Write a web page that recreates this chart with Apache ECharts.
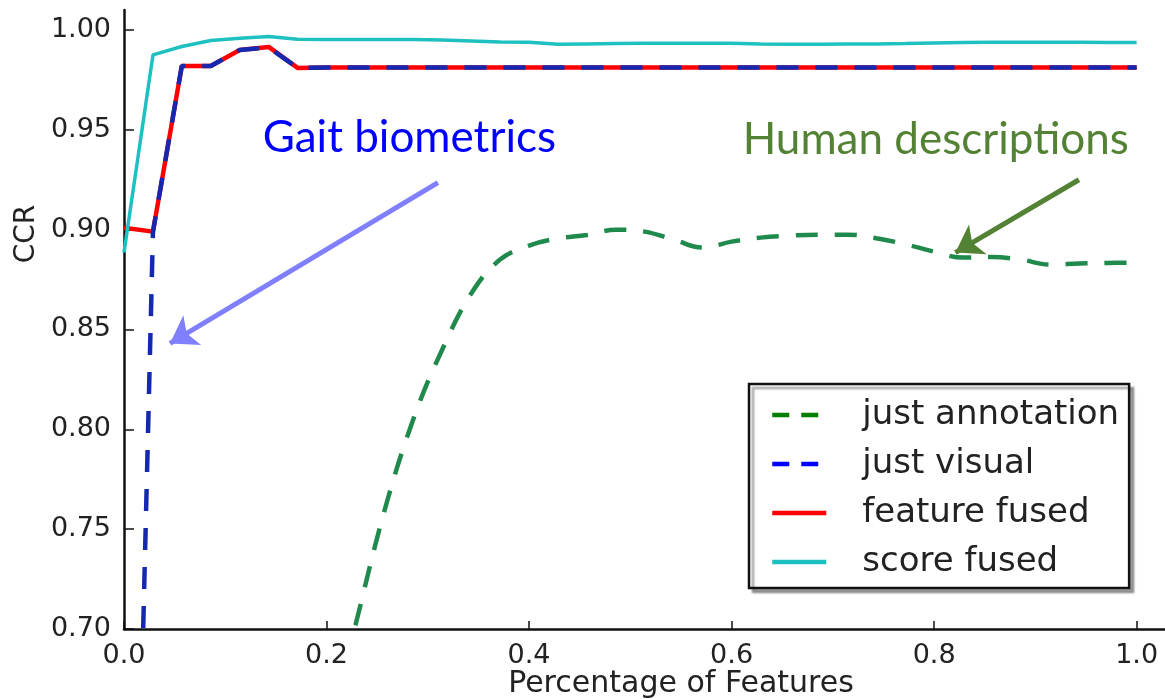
<!DOCTYPE html>
<html>
<head>
<meta charset="utf-8">
<script src="https://cdn.jsdelivr.net/npm/echarts@6/dist/echarts.min.js"></script>
<style>
html, body { margin: 0; padding: 0; background: #fff; }
#chart { width: 1165px; height: 699px; }
</style>
</head>
<body>
<div id="chart"></div>
<script>
// fraction of features used (x)
const featureFrac = [0, 0.0286, 0.0571, 0.0857, 0.1143, 0.1429, 0.1714, 0.2, 0.2286, 0.2571,
  0.2857, 0.3143, 0.3429, 0.3714, 0.4, 0.4286, 0.4571, 0.4857, 0.5143, 0.5429,
  0.5714, 0.6, 0.6286, 0.6571, 0.6857, 0.7143, 0.7429, 0.7714, 0.8, 0.8286,
  0.8571, 0.8857, 0.9143, 0.9429, 0.9714, 1.0];

const justAnnotation = [null, null, null, null, null, null, null, 0.645, 0.702, 0.759,
  0.805, 0.840, 0.868, 0.885, 0.892, 0.8956, 0.8973, 0.900, 0.899, 0.895,
  0.891, 0.894, 0.896, 0.897, 0.8975, 0.8975, 0.8957, 0.8927, 0.889, 0.886,
  0.8863, 0.885, 0.8825, 0.883, 0.8833, 0.8835];

const justVisual = [0.31, 0.899, 0.982, 0.982, 0.990, 0.9912, 0.981, 0.9812, 0.9812, 0.9812,
  0.9812, 0.9812, 0.9812, 0.9812, 0.9812, 0.9812, 0.9812, 0.9812, 0.9812, 0.9812,
  0.9812, 0.9812, 0.9812, 0.9812, 0.9812, 0.9812, 0.9812, 0.9812, 0.9812, 0.9812,
  0.9812, 0.9812, 0.9812, 0.9812, 0.9812, 0.9812];

const featureFused = [0.901, 0.899, 0.982, 0.982, 0.990, 0.9915, 0.981, 0.9812, 0.9812, 0.9812,
  0.9812, 0.9812, 0.9812, 0.9812, 0.9812, 0.9812, 0.9812, 0.9812, 0.9812, 0.9812,
  0.9812, 0.9812, 0.9812, 0.9812, 0.9812, 0.9812, 0.9812, 0.9812, 0.9812, 0.9812,
  0.9812, 0.9812, 0.9812, 0.9812, 0.9812, 0.9812];

const scoreFused = [0.8885, 0.9875, 0.9917, 0.9947, 0.9958, 0.9967, 0.9953, 0.9952, 0.9952, 0.9952,
  0.9952, 0.995, 0.9945, 0.994, 0.9938, 0.9928, 0.993, 0.9932, 0.9933, 0.9934,
  0.9934, 0.9933, 0.993, 0.9928, 0.9929, 0.993, 0.993, 0.9932, 0.9935, 0.9937,
  0.9938, 0.9938, 0.9938, 0.9938, 0.9937, 0.9937];

const xTicks = [0, 0.2, 0.4, 0.6, 0.8, 1.0];
const yTicks = [0.70, 0.75, 0.80, 0.85, 0.90, 0.95, 1.00];

// arrows and notes, in data units
const gaitArrow = [[0.310, 0.9235], [0.0454, 0.843]];
const humanArrow = [[0.943, 0.925], [0.821, 0.8885]];
const gaitNote = [0.2818, 0.946];
const humanNote = [0.8016, 0.945];

const pairs = ys => featureFrac.map((x, i) => [x, ys[i]]);
const dash = [22, 17];
const tickFont = 'DejaVu Sans';

const chart = echarts.init(document.getElementById('chart'));

const note = (pos, text, color) => ({
  coord: pos,
  symbol: 'rect',
  symbolSize: 1,
  itemStyle: { color: 'rgba(0,0,0,0)' },
  label: {
    show: true,
    position: 'inside',
    formatter: text,
    color: color,
    fontSize: 44,
    fontFamily: 'Lato'
  }
});

const arrow = (ends, color) => ({
  silent: true,
  symbol: ['none', 'arrow'],
  symbolSize: 26,
  label: { show: false },
  lineStyle: { type: 'solid', width: 5, color: color },
  data: [[{ coord: ends[0] }, { coord: ends[1] }]]
});

chart.setOption({
  animation: false,
  backgroundColor: '#fff',
  grid: { left: 124, right: 0, top: 10, bottom: 70 },
  xAxis: {
    type: 'value',
    min: 0,
    max: 1.028,
    axisLine: { show: true, lineStyle: { color: '#111', width: 2.5 } },
    axisTick: { show: true, inside: true, length: 8, customValues: xTicks, lineStyle: { color: '#111', width: 1.5 } },
    axisLabel: {
      customValues: xTicks,
      formatter: v => v.toFixed(1),
      fontFamily: tickFont, fontSize: 27, color: '#222', margin: 13
    },
    splitLine: { show: false }
  },
  yAxis: {
    type: 'value',
    min: 0.7,
    max: 1.01,
    axisLine: { show: true, lineStyle: { color: '#111', width: 2.5 } },
    axisTick: { show: true, inside: true, length: 10, customValues: yTicks, lineStyle: { color: '#111', width: 1.5 } },
    axisLabel: {
      customValues: yTicks,
      formatter: v => v.toFixed(2),
      fontFamily: tickFont, fontSize: 27, color: '#222', margin: 13
    },
    splitLine: { show: false }
  },
  legend: {
    orient: 'vertical',
    left: 749,
    top: 384,
    padding: [14, 10, 9, 21],
    itemWidth: 54,
    itemHeight: 4,
    itemGap: 15,
    itemStyle: { opacity: 0 },
    backgroundColor: '#fff',
    borderColor: '#111',
    borderWidth: 2.5,
    borderRadius: 0,
    shadowColor: 'rgba(0,0,0,0.35)',
    shadowOffsetX: 4,
    shadowOffsetY: 4,
    shadowBlur: 2,
    textStyle: { fontFamily: tickFont, fontSize: 34, lineHeight: 34, color: '#222', padding: [0, 0, 0, 31] },
    data: [
      { name: 'just annotation', lineStyle: { type: [17, 12], color: '#008000', width: 4.5 } },
      { name: 'just visual', lineStyle: { type: [17, 12], color: '#0000ff', width: 4.5 } },
      { name: 'feature fused', lineStyle: { color: '#ff0000', width: 4.5 } },
      { name: 'score fused', lineStyle: { color: '#1cbfbf', width: 4.5 } }
    ]
  },
  graphic: [
    {
      type: 'text', x: 27, y: 234, rotation: Math.PI / 2,
      style: { text: 'CCR', fontFamily: tickFont, fontSize: 28, fill: '#222', align: 'center', verticalAlign: 'middle' }
    },
    {
      type: 'text', x: 681, y: 684,
      style: { text: 'Percentage of Features', fontFamily: tickFont, fontSize: 30, fill: '#222', align: 'center', verticalAlign: 'middle' }
    }
  ],
  series: [
    {
      name: 'just annotation',
      type: 'line',
      data: pairs(justAnnotation),
      symbol: 'none',
      smooth: 0.4,
      color: '#1f8a4c',
      lineStyle: { width: 4.5, type: dash, color: '#1f8a4c' },
      z: 2,
      markLine: arrow(humanArrow, '#548235'),
      markPoint: { data: [note(humanNote, 'Human descriptions', '#548235')] }
    },
    {
      name: 'feature fused',
      type: 'line',
      data: pairs(featureFused),
      symbol: 'none',
      color: '#ff0000',
      lineStyle: { width: 4.5, color: '#ff0000' },
      z: 3
    },
    {
      name: 'just visual',
      type: 'line',
      data: pairs(justVisual),
      symbol: 'none',
      color: '#0000ff',
      lineStyle: { width: 4.5, type: dash, color: '#1428b0' },
      z: 4,
      markLine: arrow(gaitArrow, '#7f7fff'),
      markPoint: { data: [note(gaitNote, 'Gait biometrics', '#0000ff')] }
    },
    {
      name: 'score fused',
      type: 'line',
      data: pairs(scoreFused),
      symbol: 'none',
      color: '#1fc0c0',
      lineStyle: { width: 3.5, color: '#1fc0c0' },
      z: 3
    }
  ]
});
</script>
</body>
</html>
